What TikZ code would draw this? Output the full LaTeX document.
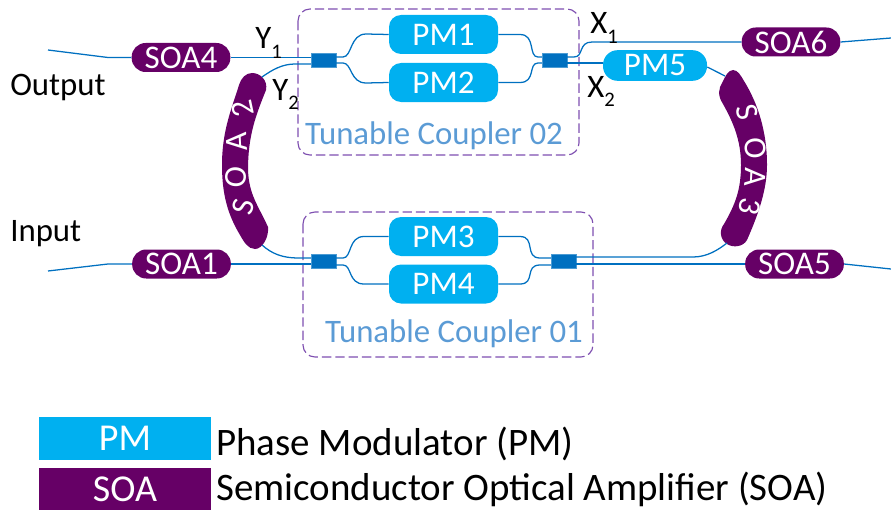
\documentclass[tikz,border=0pt]{standalone}
\usepackage{fontspec}
\setmainfont{Carlito}
\definecolor{wg}{HTML}{0070C0}
\definecolor{pmc}{HTML}{00B0F0}
\definecolor{soac}{HTML}{660066}
\definecolor{dashc}{HTML}{7E4FB0}
\definecolor{tc}{HTML}{5B9BD5}
\newcommand{\fs}[1]{\fontsize{#1}{#1}\selectfont}
\newcommand{\lblsub}[2]{#1\raisebox{-0.28em}{\fs{15.5}#2}}
\tikzset{
 wave/.style={draw=wg,line width=0.95pt},
 pmbox/.style={fill=pmc,rounded corners=9pt,inner sep=0pt,text=white,font=\fs{24.8}},
 soabox/.style={fill=soac,rounded corners=10.5pt,inner sep=0pt,text=white,font=\fs{24.8}},
 coupler/.style={fill=wg,draw=wg!70!white,line width=0.4pt,inner sep=0pt,minimum width=18.7pt,minimum height=10.8pt},
 tunable/.style={draw=dashc,line width=0.85pt,dash pattern=on 7pt off 3pt,rounded corners=9pt},
 tlabel/.style={text=tc,font=\fs{24.6},inner sep=0pt,anchor=base},
 plain/.style={text=black,font=\fs{24.6},inner sep=0pt},
 bendtxt/.style={text=white,font=\fs{24},inner sep=0pt},
 legendbox/.style={inner sep=0pt,text=white,font=\fs{28.5},minimum width=129pt}
}
\begin{document}
\begin{tikzpicture}[x=0.75pt,y=-0.75pt]
\useasboundingbox (0,0) rectangle (891,510);
% dashed boxes
\draw[tunable] (298,9) rectangle (579,155);
\draw[tunable] (303,212) rectangle (593,357);
\node[tlabel] (t2) at (434,144) {Tunable Coupler 02};
\node[tlabel] (t1) at (454,342) {Tunable Coupler 01};
% SOA 2 / SOA 3 bent amplifiers
\fill[soac] (252,73) .. controls (260,73) and (268,80) .. (266,90)
  .. controls (256,115) and (248,135) .. (248,170)
  .. controls (249,195) and (258,205) .. (268,227)
  .. controls (269,238) and (262,249) .. (255,249)
  .. controls (248,249) and (244,242) .. (240,235)
  .. controls (228,215) and (222,195) .. (222,165)
  .. controls (222,130) and (232,108) .. (239,85)
  .. controls (241,78) and (246,73) .. (252,73) -- cycle;
\fill[soac] (733,70) .. controls (738,70) and (741,76) .. (744,81)
  .. controls (757,102) and (767,130) .. (767,165)
  .. controls (767,190) and (758,215) .. (747,240)
  .. controls (743,247) and (733,248) .. (727,244)
  .. controls (720,240) and (719,230) .. (724,224)
  .. controls (735,205) and (741,190) .. (741,165)
  .. controls (741,140) and (733,122) .. (723,104)
  .. controls (717,95) and (719,88) .. (722,83)
  .. controls (725,77) and (728,70) .. (733,70) -- cycle;
\coordinate (soa2top) at (262,77);
\coordinate (soa2bot) at (262,245);
\coordinate (soa3top) at (725,76);
\coordinate (soa3bot) at (727,243);
\node[bendtxt,rotate=76] (s2a) at (243,207) {S};
\node[bendtxt,rotate=86] (s2b) at (236,177) {O};
\node[bendtxt,rotate=93] (s2c) at (237,142) {A};
\node[bendtxt,rotate=102] (s2d) at (243,109) {2};
\node[bendtxt,rotate=-76] (s3a) at (747,112) {S};
\node[bendtxt,rotate=-86] (s3b) at (755,148) {O};
\node[bendtxt,rotate=-93] (s3c) at (755,177) {A};
\node[bendtxt,rotate=-102] (s3d) at (750,207) {3};
% modulators
\node[pmbox,minimum width=81.75pt,minimum height=29.25pt] (pm1) at (443.5,34.5) {PM1};
\node[pmbox,minimum width=81.75pt,minimum height=29.25pt] (pm2) at (443.5,82.5) {PM2};
\node[pmbox,minimum width=81.75pt,minimum height=29.25pt] (pm3) at (443.5,236.5) {PM3};
\node[pmbox,minimum width=81.75pt,minimum height=29.25pt] (pm4) at (443.5,284) {PM4};
\node[pmbox,rounded corners=11pt,minimum width=78pt,minimum height=23pt] (pm5) at (655,65.5) {PM5};
% amplifiers
\node[soabox,minimum width=74pt,minimum height=21.75pt] (soa4) at (181,57.5) {SOA4};
\node[soabox,minimum width=74pt,minimum height=21.75pt] (soa1) at (181.5,264) {SOA1};
\node[soabox,minimum width=74pt,minimum height=21.75pt] (soa6) at (791,42) {SOA6};
\node[soabox,minimum width=74pt,minimum height=21.75pt] (soa5) at (794.5,264) {SOA5};
% couplers
\node[coupler] (c2l) at (323.5,60) {};
\node[coupler] (c2r) at (554.5,60) {};
\node[coupler] (c1l) at (323.5,261.5) {};
\node[coupler] (c1r) at (563.5,261.5) {};
% free ends
\coordinate (outl) at (48,50);
\coordinate (outk) at (108,57.5);
\coordinate (inl) at (48,271);
\coordinate (ink) at (108,264);
\coordinate (outr) at (891,38);
\coordinate (inr) at (891,269);
% waveguides
\draw[wave] (outl) -- (outk) -- (soa4.west);
\draw[wave] (inl) -- (ink) -- (soa1.west);
\draw[wave] (soa4.east) -- (c2l.west |- soa4.east);
\draw[wave] (soa1.east) -- (c1l.west |- soa1.east);
\draw[wave] (soa6.east) -- (outr);
\draw[wave] (soa5.east) -- (inr);
\draw[wave] (soa2top) .. controls (272,70) and (282,64) .. (295,64) -- (c2l.west |- 0,64);
\draw[wave] (soa2bot) .. controls (272,254) and (283,258) .. (298,258) -- (c1l.west |- 0,258);
% top coupler
\draw[wave] (c2l.east |- 0,57) -- (343,57) .. controls (352,57) and (350,34) .. (366,34) -- (pm1.west);
\draw[wave] (c2l.east |- 0,63) -- (343,63) .. controls (352,63) and (350,83) .. (366,83) -- (pm2.west);
\draw[wave] (pm1.east) -- (520,34.5) .. controls (536,34.5) and (528,57) .. (538,57) -- (c2r.west |- 0,57);
\draw[wave] (pm2.east) -- (520,82.5) .. controls (536,82.5) and (528,63) .. (538,63) -- (c2r.west |- 0,63);
\draw[wave] (c2r.east |- 0,57) -- (574,57) .. controls (584,57) and (578,42) .. (592,42) -- (soa6.west);
\draw[wave] (c2r.east |- 0,63) -- (pm5.west |- 0,63);
\draw[wave] (pm5.east |- 0,67) -- (soa3top);
% bottom coupler
\draw[wave] (c1l.east |- 0,258) -- (343,258) .. controls (352,258) and (348,236.5) .. (364,236.5) -- (pm3.west);
\draw[wave] (c1l.east |- 0,265) -- (343,265) .. controls (352,265) and (348,284) .. (364,284) -- (pm4.west);
\draw[wave] (pm3.east) -- (520,236.5) .. controls (536,236.5) and (524,258) .. (540,258) -- (c1r.west |- 0,258);
\draw[wave] (pm4.east) -- (520,284) .. controls (536,284) and (524,265) .. (540,265) -- (c1r.west |- 0,265);
\draw[wave] (c1r.east |- 0,257) -- (693,257) .. controls (707,257) and (718,250) .. (soa3bot);
\draw[wave] (c1r.east |- soa5.west) -- (soa5.west);
% labels
\node[plain,anchor=base west] (outp) at (10,95) {Output};
\node[plain,anchor=base west] (inp) at (10,241) {Input};
\node[plain,anchor=base west] (y1) at (255,49) {\lblsub{Y}{1}};
\node[plain,anchor=base west] (y2) at (272,100) {\lblsub{Y}{2}};
\node[plain,anchor=base west] (x1) at (590,34) {\lblsub{X}{1}};
\node[plain,anchor=base west] (x2) at (587,97) {\lblsub{X}{2}};
% legend
\node[legendbox,fill=pmc,minimum height=32.25pt] (lpm) at (125,438.5) {PM};
\node[legendbox,fill=soac,minimum height=31.5pt] (lsoa) at (125,489) {SOA};
\node[plain,anchor=base west,font=\fs{29.2}] (lt1) at (216,455) {Phase Modulator (PM)};
\node[plain,anchor=base west,font=\fs{29.2}] (lt2) at (216,500) {Semiconductor Optical Amplifier (SOA)};
\end{tikzpicture}
\end{document}
